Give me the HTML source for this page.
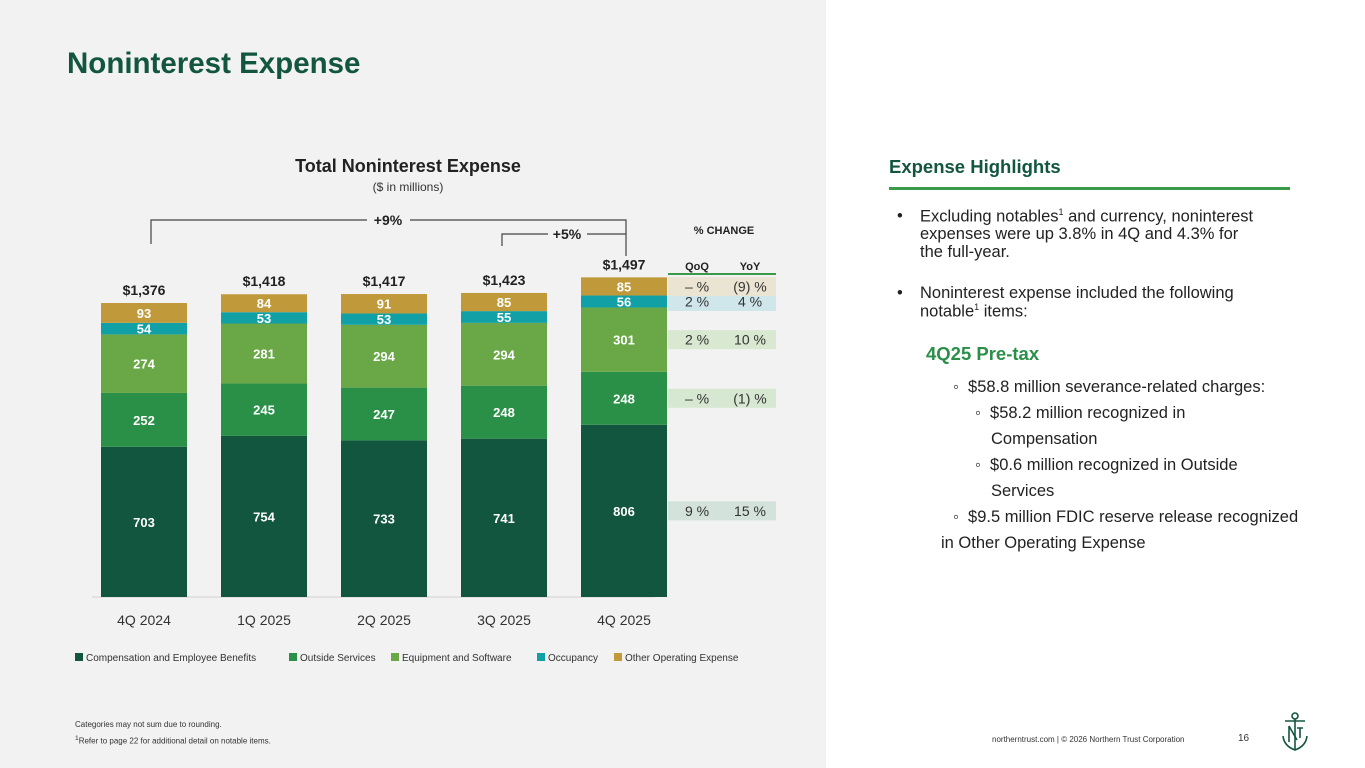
<!DOCTYPE html>
<html><head><meta charset="utf-8"><style>
body{margin:0;width:1365px;height:768px;overflow:hidden;font-family:"Liberation Sans",sans-serif;background:#fff;position:relative}
.abs{position:absolute}
.t{position:absolute;font-size:16.5px;color:#222;white-space:nowrap}
</style></head><body>
<div class="abs" style="left:0;top:0;width:826px;height:768px;background:#f2f2f2"></div>
<div class="abs" style="left:67px;top:47px;font-size:29.5px;font-weight:bold;color:#12563f">Noninterest Expense</div>
<svg class="abs" style="left:0;top:0" width="826" height="768" id="chart"></svg>
<div class="abs" style="left:889px;top:156px;font-size:18.5px;font-weight:bold;color:#12563f">Expense Highlights</div>
<div class="abs" style="left:889px;top:187px;width:401px;height:3px;background:#3a9a4a"></div>
<div>
<div class="t" style="left:897px;top:207px">•</div>
<div class="t" style="left:920px;top:207px">Excluding notables<sup style="font-size:9px">1</sup> and currency, noninterest</div>
<div class="t" style="left:920px;top:225px">expenses were up 3.8% in 4Q and 4.3% for</div>
<div class="t" style="left:920px;top:243px">the full-year.</div>
<div class="t" style="left:897px;top:284px">•</div>
<div class="t" style="left:920px;top:284px">Noninterest expense included the following</div>
<div class="t" style="left:920px;top:302px">notable<sup style="font-size:9px">1</sup> items:</div>
<div class="t" style="left:926px;top:343px;font-size:18.5px;font-weight:bold;color:#2a8f47">4Q25 Pre-tax</div>
<div class="t" style="left:953px;top:378px">◦&nbsp; $58.8 million severance-related charges:</div>
<div class="t" style="left:975px;top:404px">◦&nbsp; $58.2 million recognized in</div>
<div class="t" style="left:991px;top:430px">Compensation</div>
<div class="t" style="left:975px;top:456px">◦&nbsp; $0.6 million recognized in Outside</div>
<div class="t" style="left:991px;top:482px">Services</div>
<div class="t" style="left:953px;top:508px">◦&nbsp; $9.5 million FDIC reserve release recognized</div>
<div class="t" style="left:941px;top:534px">in Other Operating Expense</div>
</div>
<div class="abs" style="left:75px;top:720px;font-size:8px;color:#333">Categories may not sum due to rounding.</div>
<div class="abs" style="left:75px;top:735px;font-size:8px;color:#333"><sup>1</sup>Refer to page 22 for additional detail on notable items.</div>
<div class="abs" style="left:992px;top:735px;font-size:8px;color:#333">northerntrust.com | © 2026 Northern Trust Corporation</div>
<div class="abs" style="left:1238px;top:733px;font-size:10px;color:#333">16</div>
<svg class="abs" style="left:1280px;top:712px" width="30" height="42" viewBox="0 0 30 42"><g fill="none" stroke="#12563f" stroke-width="1.6"><circle cx="15" cy="4" r="3"/><line x1="5" y1="9" x2="25" y2="9"/><line x1="15" y1="7" x2="15" y2="37"/><path d="M3 24 Q4 34 15 38 Q26 34 27 24"/><path d="M9 14 L9 30 M9 14 L17 28"/><path d="M17 16 L23 16 M20 16 L20 26"/></g></svg>
<script>
const categories=["4Q 2024","1Q 2025","2Q 2025","3Q 2025","4Q 2025"];
const comp=[703,754,733,741,806];
const outside=[252,245,247,248,248];
const equip=[274,281,294,294,301];
const occ=[54,53,53,55,56];
const other=[93,84,91,85,85];
const totals=["$1,376","$1,418","$1,417","$1,423","$1,497"];
const qoq=["9 %","– %","2 %","2 %","– %"];
const yoy=["15 %","(1) %","10 %","4 %","(9) %"];
const seriesNames=["Compensation and Employee Benefits","Outside Services","Equipment and Software","Occupancy","Other Operating Expense"];
const colors=["#12563f","#2a8f47","#6aa847","#10a0a6","#c09a3a"];
const rowBg=["#d3e2da","#d6e7d2","#d9e8d0","#cfe6ea","#ebe4d2"];
const svg=document.getElementById('chart');const NS="http://www.w3.org/2000/svg";
function mk(t,a,txt){const e=document.createElementNS(NS,t);for(const k in a)e.setAttribute(k,a[k]);if(txt!==undefined)e.textContent=txt;svg.appendChild(e);return e;}
const base=597,scale=294/1376,bw=86;
const x=i=>144+i*120,y=v=>base-v*scale;
let e;
e=mk('text',{x:408,y:172,'text-anchor':'middle','font-size':18,'font-weight':'bold',fill:'#222'},'Total Noninterest Expense');

e=mk('text',{x:408,y:191,'text-anchor':'middle','font-size':12,fill:'#333'},'($ in millions)');

mk('line',{x1:92,y1:base,x2:655,y2:base,stroke:'#d0d0d0'});
const series=[comp,outside,equip,occ,other];
categories.forEach((c,i)=>{
 let cum=0;
 series.forEach((s,k)=>{
  const v=s[i];const y0=y(cum),y1=y(cum+v);
  const r=mk('rect',{x:x(i)-bw/2,y:y1,width:bw,height:y0-y1,fill:colors[k]});
  
  const t=mk('text',{x:x(i),y:(y0+y1)/2+5,'text-anchor':'middle','font-size':13,'font-weight':'bold',fill:'#fff'},v);
  
  cum+=v;
 });
 const tt=mk('text',{x:x(i),y:y(cum)-8,'text-anchor':'middle','font-size':14,'font-weight':'bold',fill:'#222'},totals[i]);
 
 const xl=mk('text',{x:x(i),y:625,'text-anchor':'middle','font-size':14,fill:'#333'},c);
 
});
const last=categories.length-1;let cum=0;
series.forEach((s,k)=>{
 const v=s[last];const yc=y(cum+v/2);cum+=v;
 const r=mk('rect',{x:668,y:yc-9.5,width:108,height:19,fill:rowBg[k]});
 
 mk('text',{x:697,y:yc+5,'text-anchor':'middle','font-size':14,fill:'#333'},qoq[k]);
 mk('text',{x:750,y:yc+5,'text-anchor':'middle','font-size':14,fill:'#333'},yoy[k]);
});
mk('line',{x1:668,y1:274,x2:776,y2:274,stroke:'#3a9a4a','stroke-width':2});
mk('text',{x:697,y:270,'text-anchor':'middle','font-size':11,'font-weight':'bold',fill:'#222'},'QoQ');
mk('text',{x:750,y:270,'text-anchor':'middle','font-size':11,'font-weight':'bold',fill:'#222'},'YoY');
e=mk('text',{x:724,y:234,'text-anchor':'middle','font-size':11,'font-weight':'bold',fill:'#222'},'% CHANGE');

mk('path',{d:'M151 244 V220 H367 M410 220 H626 V256',fill:'none',stroke:'#444','stroke-width':1.2});
mk('text',{x:388,y:225,'text-anchor':'middle','font-size':14,'font-weight':'bold',fill:'#222'},'+9%');
mk('path',{d:'M502 246 V234 H548 M587 234 H626',fill:'none',stroke:'#444','stroke-width':1.2});
mk('text',{x:567,y:239,'text-anchor':'middle','font-size':14,'font-weight':'bold',fill:'#222'},'+5%');
const lxs=[75,289,391,537,614];
seriesNames.forEach((n,k)=>{
 const r=mk('rect',{x:lxs[k],y:653,width:8,height:8,fill:colors[k]});
 
 const t=mk('text',{x:lxs[k]+11,y:661,'font-size':10,fill:'#333'},n);
 
});
</script>
</body></html>
